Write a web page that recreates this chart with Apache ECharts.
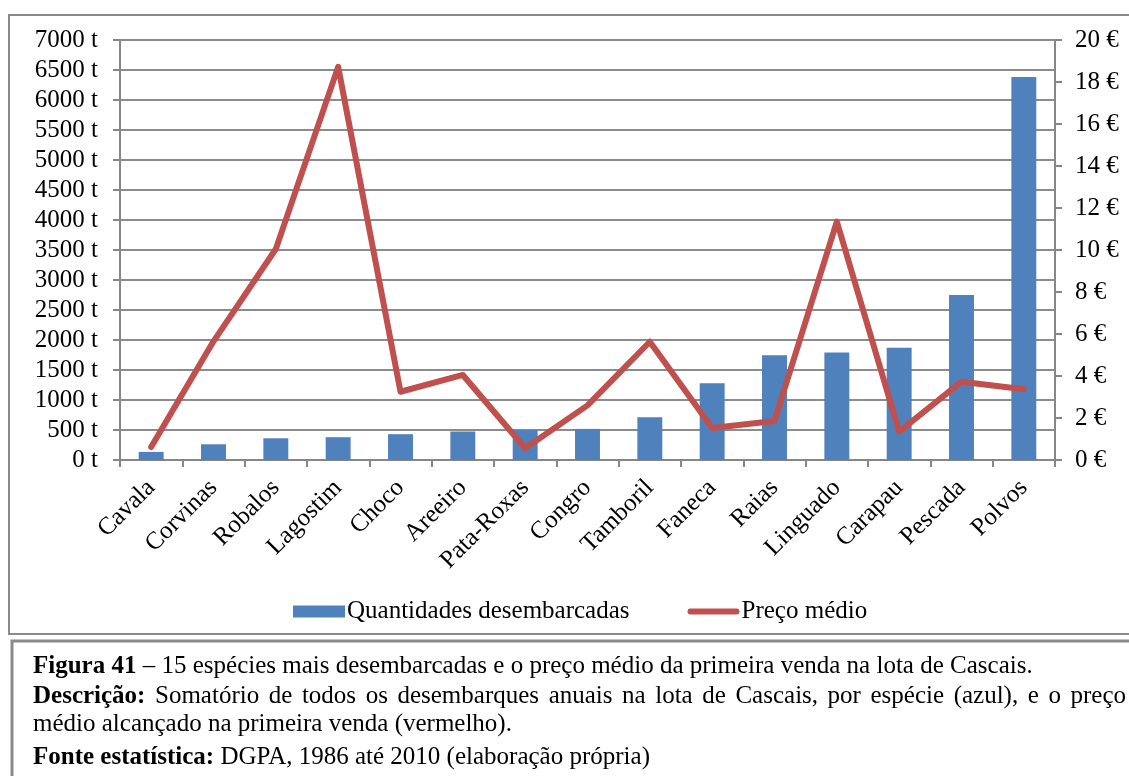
<!DOCTYPE html>
<html>
<head>
<meta charset="utf-8">
<script src="https://cdn.jsdelivr.net/npm/echarts@6/dist/echarts.min.js"></script>
<style>
html,body{margin:0;padding:0;background:#fff;}
#wrap{position:relative;width:1129px;height:776px;overflow:hidden;}
#c{position:absolute;left:0;top:0;width:1129px;height:776px;}
.cap{position:absolute;left:33px;font-family:"Liberation Serif","Times New Roman",serif;font-size:25px;color:#000;white-space:nowrap;line-height:30px;}
.cap b{font-weight:bold;}
.just{white-space:normal;width:1093px;text-align:justify;text-align-last:justify;}
</style>
</head>
<body>
<div id="wrap">
<div id="c"></div>
<div id="caption"></div>
</div>
<script>
const categories = ['Cavala','Corvinas','Robalos','Lagostim','Choco','Areeiro','Pata-Roxas','Congro','Tamboril','Faneca','Raias','Linguado','Carapau','Pescada','Polvos'];
const quantidades = [135, 262, 362, 380, 430, 475, 500, 518, 712, 1278, 1745, 1790, 1872, 2750, 6385];
const precoMedio = [0.62, 5.65, 10.05, 18.72, 3.25, 4.05, 0.56, 2.6, 5.63, 1.52, 1.86, 11.35, 1.35, 3.73, 3.37];
const seriesNames = ['Quantidades desembarcadas', 'Preço médio'];
const captionLines = [
  ['Figura 41', ' – 15 espécies mais desembarcadas e o preço médio da primeira venda na lota de Cascais.'],
  ['Descrição:', ' Somatório de todos os desembarques anuais na lota de Cascais, por espécie (azul), e o preço'],
  ['', 'médio alcançado na primeira venda (vermelho).'],
  ['Fonte estatística:', ' DGPA, 1986 até 2010 (elaboração própria)']
];

// caption as real HTML text
const capTops = [650, 680, 708, 741];
const capEl = document.getElementById('caption');
captionLines.forEach((l, i) => {
  const d = document.createElement('div');
  d.className = 'cap' + (i === 1 ? ' just' : '');
  d.style.top = capTops[i] + 'px';
  if (l[0]) { const b = document.createElement('b'); b.textContent = l[0]; d.appendChild(b); }
  d.appendChild(document.createTextNode(l[1]));
  capEl.appendChild(d);
});

const FONT = '"Liberation Serif", "Times New Roman", serif';
const AXIS_GRAY = '#868686';
const chart = echarts.init(document.getElementById('c'), null, {renderer: 'canvas'});

chart.setOption({
  animation: false,
  backgroundColor: 'transparent',
  grid: {left: 120, right: 74, top: 40, bottom: 316, containLabel: false},
  graphic: [
    {type: 'rect', shape: {x: 9, y: 15, width: 1140, height: 619}, style: {fill: 'none', stroke: '#8a8a8a', lineWidth: 2}, silent: true, z: -1},
    {type: 'rect', shape: {x: 12, y: 641, width: 1140, height: 150}, style: {fill: 'none', stroke: '#8a8a8a', lineWidth: 3}, silent: true, z: -1}
  ],
  legend: {
    left: 288,
    top: 594,
    itemWidth: 52,
    itemHeight: 12,
    itemGap: 58,
    textStyle: {fontFamily: FONT, fontSize: 25, color: '#000', padding: [0, 0, 0, -3]},
    data: [
      {name: seriesNames[0], icon: 'rect'},
      {name: seriesNames[1], icon: 'path://M3,0 H49 A3,3 0 0 1 49,6 H3 A3,3 0 0 1 3,0 Z'}
    ]
  },
  xAxis: {
    type: 'category',
    data: categories,
    axisLine: {lineStyle: {color: AXIS_GRAY, width: 2}},
    axisTick: {show: true, length: 7, lineStyle: {color: AXIS_GRAY, width: 2}},
    axisLabel: {rotate: 45, margin: 24, fontFamily: FONT, fontSize: 25, color: '#000', interval: 0}
  },
  yAxis: [
    {
      type: 'value', min: 0, max: 7000, interval: 500,
      axisLine: {show: true, lineStyle: {color: AXIS_GRAY, width: 2}},
      axisTick: {show: true, length: 7, lineStyle: {color: AXIS_GRAY, width: 2}},
      splitLine: {show: true, lineStyle: {color: '#8c8c8c', width: 2}},
      axisLabel: {formatter: v => String(v) + ' t', margin: 22, fontFamily: FONT, fontSize: 25, color: '#000'}
    },
    {
      type: 'value', min: 0, max: 20, interval: 2, position: 'right',
      axisLine: {show: true, lineStyle: {color: AXIS_GRAY, width: 2}},
      axisTick: {show: true, length: 7, lineStyle: {color: AXIS_GRAY, width: 2}},
      splitLine: {show: false},
      axisLabel: {formatter: v => String(v) + ' €', margin: 20, fontFamily: FONT, fontSize: 25, color: '#000'}
    }
  ],
  series: [
    {
      name: seriesNames[0],
      type: 'bar',
      data: quantidades,
      yAxisIndex: 0,
      barCategoryGap: '60%',
      itemStyle: {color: '#4F81BD'}
    },
    {
      name: seriesNames[1],
      type: 'line',
      data: precoMedio,
      yAxisIndex: 1,
      symbol: 'none',
      showSymbol: false,
      itemStyle: {color: '#C0504D'},
      lineStyle: {color: '#C0504D', width: 6, cap: 'round', join: 'round'},
      z: 3
    }
  ]
});
</script>
</body>
</html>
